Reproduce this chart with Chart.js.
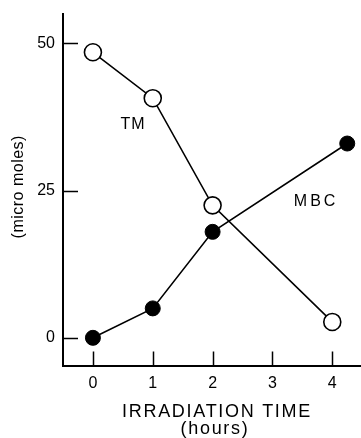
<!DOCTYPE html>
<html>
<head>
<meta charset="utf-8">
<script src="https://cdn.jsdelivr.net/npm/chart.js@4/dist/chart.umd.min.js"></script>
<style>
  html, body { margin: 0; padding: 0; background: #fff; }
  #wrap { width: 361px; height: 438px; }
</style>
</head>
<body>
<div id="wrap"><canvas id="c" width="361" height="438"></canvas></div>
<script>
// Thiram (TM) breakdown and MBC formation under irradiation
const tmHours = [0, 1, 2, 4];
const tmValues = [48.5, 40.7, 22.5, 2.7];
const mbcHours = [0, 1, 2, 4.25];
const mbcValues = [0, 5.0, 18.0, 33.0];

const xTickValues = [0, 1, 2, 3, 4];
const yTickValues = [0, 25, 50];

const seriesNames = ['TM', 'MBC'];
const xTitleLines = ['IRRADIATION TIME', '(hours)'];
const yTitleText = '(micro moles)';

// where each series name sits, in data units (hours, micro moles)
const nameAnchors = [[0.67, 36.5], [3.73, 23.4]];

const FONT = '"Liberation Sans", Arial, sans-serif';

const toPoints = (xs, ys) => xs.map((x, i) => ({ x: x, y: ys[i] }));

// tick marks pointing into the plot, plus axis titles and series names
const decorations = {
  id: 'decorations',
  afterDraw(chart) {
    const ctx = chart.ctx;
    const xs = chart.scales.x, ys = chart.scales.y;
    const area = chart.chartArea;
    ctx.save();
    ctx.strokeStyle = '#000';
    ctx.lineWidth = 1.5;
    ctx.beginPath();
    yTickValues.forEach(v => {
      const py = Math.round(ys.getPixelForValue(v)) + 0.5;
      ctx.moveTo(area.left, py);
      ctx.lineTo(area.left + 15, py);
    });
    xTickValues.forEach(v => {
      const px = Math.round(xs.getPixelForValue(v)) + 0.5;
      ctx.moveTo(px, area.bottom);
      ctx.lineTo(px, area.bottom - 14);
    });
    ctx.stroke();

    ctx.fillStyle = '#000';
    // x axis title, two lines
    ctx.font = '18px ' + FONT;
    ctx.letterSpacing = '1.7px';
    ctx.textAlign = 'center';
    ctx.textBaseline = 'alphabetic';
    const cx = (area.left + area.right) / 2 + 5;
    ctx.fillText(xTitleLines[0], cx, area.bottom + 51);
    ctx.fillText(xTitleLines[1], cx - 2, area.bottom + 68);

    // y axis title, rotated
    ctx.save();
    ctx.font = '16px ' + FONT;
    ctx.letterSpacing = '0.5px';
    ctx.translate(19, (area.top + area.bottom) / 2 - 3);
    ctx.rotate(-Math.PI / 2);
    ctx.textBaseline = 'middle';
    ctx.fillText(yTitleText, 0, 0);
    ctx.restore();

    // series names
    ctx.font = '16px ' + FONT;
    const spacing = ['1px', '3px'];
    seriesNames.forEach((name, i) => {
      ctx.letterSpacing = spacing[i];
      const px = xs.getPixelForValue(nameAnchors[i][0]);
      const py = ys.getPixelForValue(nameAnchors[i][1]);
      ctx.fillText(name, px, py + 6);
    });
    ctx.restore();
  }
};

// fixed axis box sizes, with no extra room reserved for end labels
const fitX = s => { s.height = 72.5; s.paddingLeft = 0; s.paddingRight = 0; };
const fitY = s => { s.width = 63; s.paddingTop = 0; s.paddingBottom = 0; };

new Chart(document.getElementById('c'), {
  type: 'scatter',
  data: {
    datasets: [
      {
        label: seriesNames[0],
        data: toPoints(tmHours, tmValues),
        showLine: true,
        borderColor: '#000',
        borderWidth: 1.6,
        pointRadius: 8.5,
        pointBorderWidth: 1.6,
        pointBackgroundColor: '#fff',
        pointBorderColor: '#000',
        order: 1
      },
      {
        label: seriesNames[1],
        data: toPoints(mbcHours, mbcValues),
        showLine: true,
        borderColor: '#000',
        borderWidth: 1.6,
        pointRadius: 7.5,
        pointBorderWidth: 1,
        pointBackgroundColor: '#000',
        pointBorderColor: '#000',
        order: 2
      }
    ]
  },
  options: {
    responsive: false,
    animation: false,
    devicePixelRatio: 1,
    layout: { autoPadding: false, padding: { top: 14, right: 0, bottom: 0, left: 0 } },
    plugins: { legend: { display: false }, tooltip: { enabled: false } },
    scales: {
      x: {
        type: 'linear',
        min: -0.5,
        max: 4.48,
        afterBuildTicks: s => { s.ticks = xTickValues.map(v => ({ value: v })); },
        afterFit: fitX,
        grid: { display: false, drawTicks: false },
        border: { display: true, color: '#000', width: 2 },
        ticks: {
          color: '#000',
          padding: 8,
          maxRotation: 0,
          font: { family: FONT, size: 16 }
        }
      },
      y: {
        type: 'linear',
        min: -4.7,
        max: 55,
        afterBuildTicks: s => { s.ticks = yTickValues.map(v => ({ value: v })); },
        afterFit: fitY,
        grid: { display: false, drawTicks: false },
        border: { display: true, color: '#000', width: 2 },
        ticks: {
          color: '#000',
          padding: 8,
          font: { family: FONT, size: 16 }
        }
      }
    }
  },
  plugins: [decorations]
});
</script>
</body>
</html>
